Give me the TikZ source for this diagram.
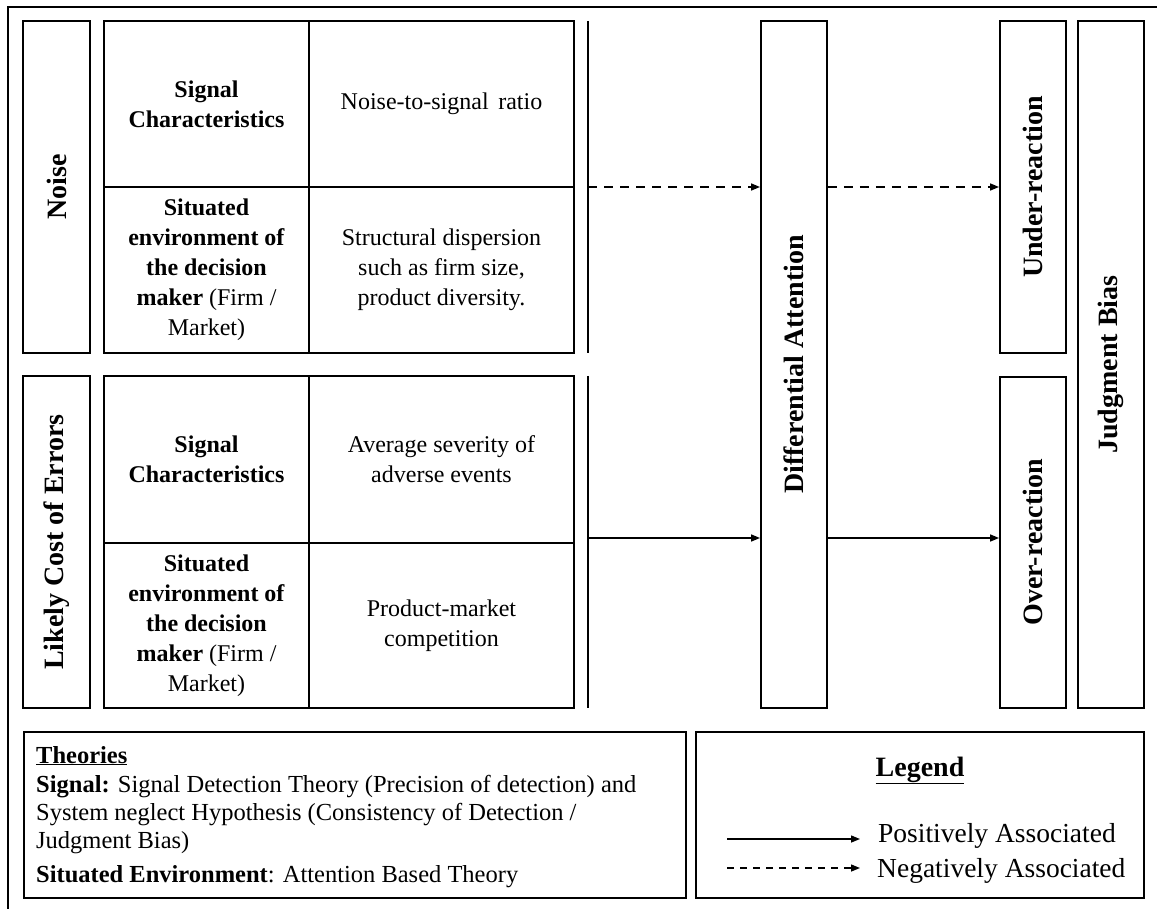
\documentclass[tikz,border=0pt]{standalone}
\usepackage{fontspec}
\setmainfont{Liberation Serif}
\usetikzlibrary{arrows.meta}

\newcommand\cellfont{\fontsize{24}{30}\selectfont}
\newcommand\vlabelfont{\fontsize{28}{34}\selectfont\bfseries}
\newcommand\notefont{\fontsize{24.5}{29}\selectfont}
\newcommand\keyfont{\fontsize{27.5}{33}\selectfont}
\newcommand\keytitlefont{\fontsize{28}{34}\selectfont\bfseries}

\begin{document}
\begin{tikzpicture}[x=1pt, y=-1pt,
  frame/.style={draw, line width=1.9pt, inner sep=0pt},
  cell/.style={frame, align=center, font=\cellfont},
  vlabel/.style={rotate=90, inner sep=0pt, font=\vlabelfont},
  barnode/.style={inner sep=0pt, minimum width=0pt, draw=none},
  bar/.style={line width=2pt},
  posarrow/.style={line width=1.6pt, -{Triangle[length=9pt,width=7pt]}},
  negarrow/.style={posarrow, dash pattern=on 9pt off 7pt},
  note/.style={anchor=base west, inner sep=0pt, font=\notefont},
  key/.style={anchor=base west, inner sep=0pt, font=\keyfont},
]
\useasboundingbox (0,0) rectangle (1157,909);

% outer frame (runs off the right and bottom edges)
\draw[line width=1.4pt] (8,940) -- (8,7) -- (1190,7);

% ---- Noise block ----
\node[frame, minimum width=67pt, minimum height=332pt] (noise) at (56.5,187) {};
\node[vlabel] (noiseL) at (noise.center) {Noise};

\node[cell, minimum width=205pt, minimum height=166pt] (nsig) at (206.5,104)
  {\textbf{Signal}\\\textbf{Characteristics}};
\node[cell, minimum width=265pt, minimum height=166pt] (nsigV) at (441.5,104)
  {Noise-to-signal\hspace{0.4em}ratio};
\node[cell, minimum width=205pt, minimum height=166pt] (nenv) at (206.5,270)
  {\textbf{Situated}\\\textbf{environment of}\\\textbf{the decision}\\\textbf{maker} (Firm /\\Market)};
\node[cell, minimum width=265pt, minimum height=166pt] (nenvV) at (441.5,270)
  {Structural dispersion\\such as firm size,\\product diversity.};

\node[barnode, minimum height=332pt] (bar1) at (588,187) {};
\draw[bar] (bar1.north) -- (bar1.south);

% ---- Likely cost of errors block ----
\node[frame, minimum width=67pt, minimum height=332pt] (cost) at (56.5,542) {};
\node[vlabel] (costL) at (cost.center) {Likely Cost of Errors};

\node[cell, minimum width=205pt, minimum height=167pt] (csig) at (206.5,459.5)
  {\textbf{Signal}\\\textbf{Characteristics}};
\node[cell, minimum width=265pt, minimum height=167pt] (csigV) at (441.5,459.5)
  {Average severity of\\adverse events};
\node[cell, minimum width=205pt, minimum height=165pt] (cenv) at (206.5,625.5)
  {\textbf{Situated}\\\textbf{environment of}\\\textbf{the decision}\\\textbf{maker} (Firm /\\Market)};
\node[cell, minimum width=265pt, minimum height=165pt] (cenvV) at (441.5,625.5)
  {Product-market\\competition};

\node[barnode, minimum height=332pt] (bar2) at (588,542) {};
\draw[bar] (bar2.north) -- (bar2.south);

% ---- attention and outcome columns ----
\node[frame, minimum width=66pt, minimum height=687pt] (attn) at (794,364.5) {};
\node[vlabel] (attnL) at (attn.center) {Differential Attention};

\node[frame, minimum width=66pt, minimum height=332pt] (under) at (1033,187) {};
\node[vlabel] (underL) at (under.center) {Under-reaction};

\node[frame, minimum width=66pt, minimum height=331pt] (over) at (1033,542.5) {};
\node[vlabel] (overL) at (over.center) {Over-reaction};

\node[frame, minimum width=66pt, minimum height=687pt] (bias) at (1111,364.5) {};
\node[vlabel] (biasL) at (bias.center) {Judgment Bias};

% ---- connectors ----
\coordinate (yneg) at (0,187);
\coordinate (ypos) at (0,538);
\draw[negarrow] (bar1.center |- yneg) -- (attn.west |- yneg);
\draw[negarrow] (attn.east |- yneg) -- (under.west |- yneg);
\draw[posarrow] (bar2.center |- ypos) -- (attn.west |- ypos);
\draw[posarrow] (attn.east |- ypos) -- (over.west |- ypos);

% ---- theories ----
\node[frame, minimum width=662pt, minimum height=166pt] (theories) at (355,815) {};
\node[note] (th0) at (36,763) {\underline{\textbf{Theories}}};
\node[note] (th1) at (36,792) {\textbf{Signal:} Signal Detection Theory (Precision of detection) and};
\node[note] (th2) at (36,820) {System neglect Hypothesis (Consistency of Detection /};
\node[note] (th3) at (36,848) {Judgment Bias)};
\node[note] (th4) at (36,882) {\textbf{Situated Environment}: Attention Based Theory};

% ---- legend ----
\node[frame, minimum width=448pt, minimum height=166pt] (legend) at (920,815) {};
\node[anchor=base, inner sep=0pt, font=\keytitlefont] (legT) at (920,776) {\underline{Legend}};
\coordinate (ps) at (727,839);
\coordinate (pe) at (860,839);
\coordinate (ns) at (727,868);
\coordinate (ne) at (860,868);
\draw[posarrow, line width=1.4pt] (ps) -- (pe);
\draw[negarrow, line width=1.4pt, dash pattern=on 7pt off 6pt] (ns) -- (ne);
\node[key] (posT) at (878,842) {Positively Associated};
\node[key] (negT) at (877,877) {Negatively Associated};
\end{tikzpicture}
\end{document}
